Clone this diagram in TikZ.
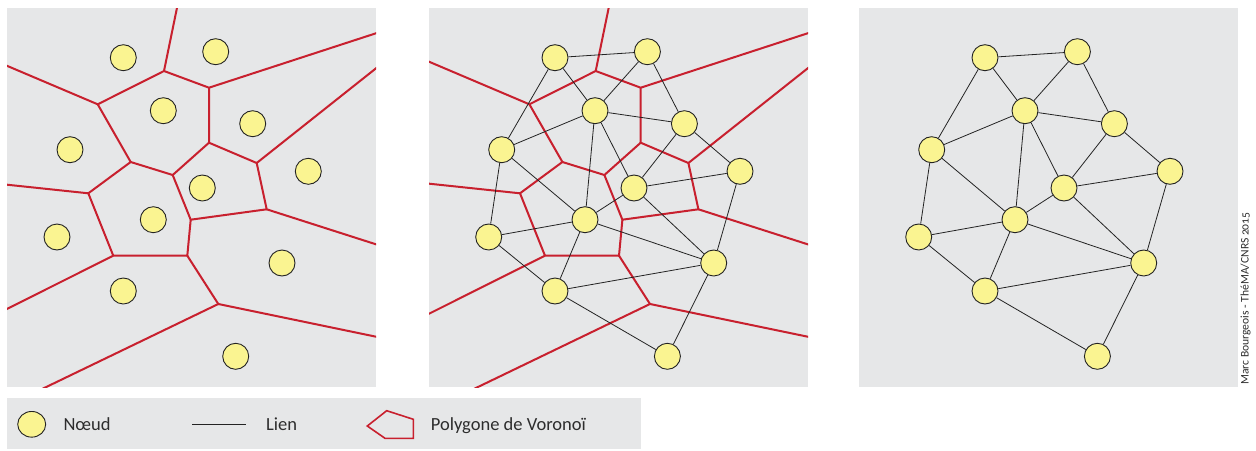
\documentclass[tikz,border=0pt]{standalone}
\usepackage{fontspec}
\setmainfont{Carlito}
\usetikzlibrary{shapes.geometric}
\definecolor{panelgray}{RGB}{230,231,232}
\definecolor{siteyellow}{RGB}{250,244,145}
\definecolor{cellred}{RGB}{200,32,46}
\definecolor{linkgray}{RGB}{35,35,35}
\definecolor{textgray}{RGB}{45,45,45}
\tikzset{
    site/.style={circle,draw=linkgray,fill=siteyellow,line width=0.9pt,minimum size=26pt,inner sep=0pt},
    link/.style={draw=linkgray,line width=0.8pt},
    cell/.style={draw=cellred,line width=2pt,line join=miter},
    panel/.style={fill=panelgray},
    keytext/.style={font=\fontsize{18.5}{20}\selectfont,text=textgray,anchor=base west,inner sep=0pt},
}
% Sites (same for the three panels)
\newcommand\sites[1]{%
    \foreach \n/\x/\y in {1/123.3/57.7,2/215.7/51.7,3/163.3/110.7,4/252.7/123.7,
        5/70/149.7,6/308.3/171.3,7/202.3/188,8/153.3/219.7,9/57/237,
        10/282/263,11/123.3/291,12/235.7/356.3}
        \node[site] (#1\n) at (\x,\y) {};
}
% Voronoi polygons
\newcommand\cells[1]{%
    \foreach \v/\x/\y in {A/164/71,B/209/87.7,C/97.7/104.3,D/209/142.7,E/256.7/163,
        F/130.7/162,G/172.7/175,H/88.3/193.3,I/266.7/209.3,J/190.7/219.7,
        K/113.3/255.7,L/187.3/255.7,M/218.3/304}
        \coordinate (#1\v) at (\x,\y);
    % open ends, cut by the panel
    \foreach \v/\x/\y in {r1/178.6/0,r2/-10/58.6,r3/390/28.7,r4/390/57.2,r5/-10/182.9,
        r6/390/248.8,r7/-10/317.4,r8/390/339.6,r9/19.3/400}
        \coordinate (#1\v) at (\x,\y);
    \draw[cell] (#1r1) -- (#1A) -- (#1C) -- (#1F) -- (#1H) -- (#1r5);
    \draw[cell] (#1r2) -- (#1C);
    \draw[cell] (#1A) -- (#1B) -- (#1r3);
    \draw[cell] (#1B) -- (#1D) -- (#1E) -- (#1r4);
    \draw[cell] (#1D) -- (#1G) -- (#1F);
    \draw[cell] (#1E) -- (#1I) -- (#1r6);
    \draw[cell] (#1G) -- (#1J) -- (#1I);
    \draw[cell] (#1J) -- (#1L) -- (#1K) -- (#1r7);
    \draw[cell] (#1H) -- (#1K);
    \draw[cell] (#1L) -- (#1M) -- (#1r8);
    \draw[cell] (#1M) -- (#1r9);
}
% Links (Delaunay)
\newcommand\links[1]{%
    \foreach \a/\b in {1/2,1/3,1/5,2/3,2/4,3/4,3/5,3/7,3/8,4/6,4/7,5/8,5/9,
        6/7,6/10,7/8,7/10,8/9,8/10,8/11,9/11,10/11,10/12,11/12}
        \draw[link] (#1\a) -- (#1\b);
}
\begin{document}
\begin{tikzpicture}[x=1pt,y=-1pt]
    \useasboundingbox (0,0) rectangle (1256,450);
% Panels
    \fill[panel] (7,8) rectangle (376,387);
    \fill[panel] (429,8) rectangle (808,387);
    \fill[panel] (859,8) rectangle (1238,387);
% Left: sites and polygons
    \begin{scope}
        \clip (7,8) rectangle (376,387);
        \cells{a}
    \end{scope}
    \sites{a}
% Middle: polygons and links
    \begin{scope}[xshift=431.7]
        \sites{b}
        \begin{scope}
            \clip (-2.7,8) rectangle (376.3,387);
            \cells{b}
        \end{scope}
        \links{b}
    \end{scope}
% Right: links only
    \begin{scope}[xshift=861.7]
        \sites{c}
        \links{c}
    \end{scope}
% Legend
    \fill[panel] (7,398) rectangle (641,449);
    \node[site,ellipse,minimum width=28pt,minimum height=25.7pt] (keysite) at (31.7,424.3) {};
    \node[keytext] (keysitetext) at (63.3,430.7) {Nœud};
    \coordinate (keylinkfrom) at (192.3,424.3);
    \coordinate (keylinkto) at (245.7,424.3);
    \draw[link] (keylinkfrom) -- (keylinkto);
    \node[keytext] (keylinktext) at (266,430.7) {Lien};
    \draw[cell,line width=1.6pt] (367.3,426) -- (386.7,410.7) -- (413.3,419.3)
        -- (413.3,438.3) -- (385,438.3) -- cycle;
    \node[keytext] (keycelltext) at (430.7,430.7) {Polygone de Voronoï};
% Credit
    \node[rotate=90,anchor=base west,inner sep=0pt,text=textgray,
        font=\fontsize{11.6}{13}\selectfont\addfontfeatures{Numbers=OldStyle}]
        (credit) at (1248.5,385) {Marc Bourgeois - ThéMA/CNRS 2015};
\end{tikzpicture}
\end{document}
